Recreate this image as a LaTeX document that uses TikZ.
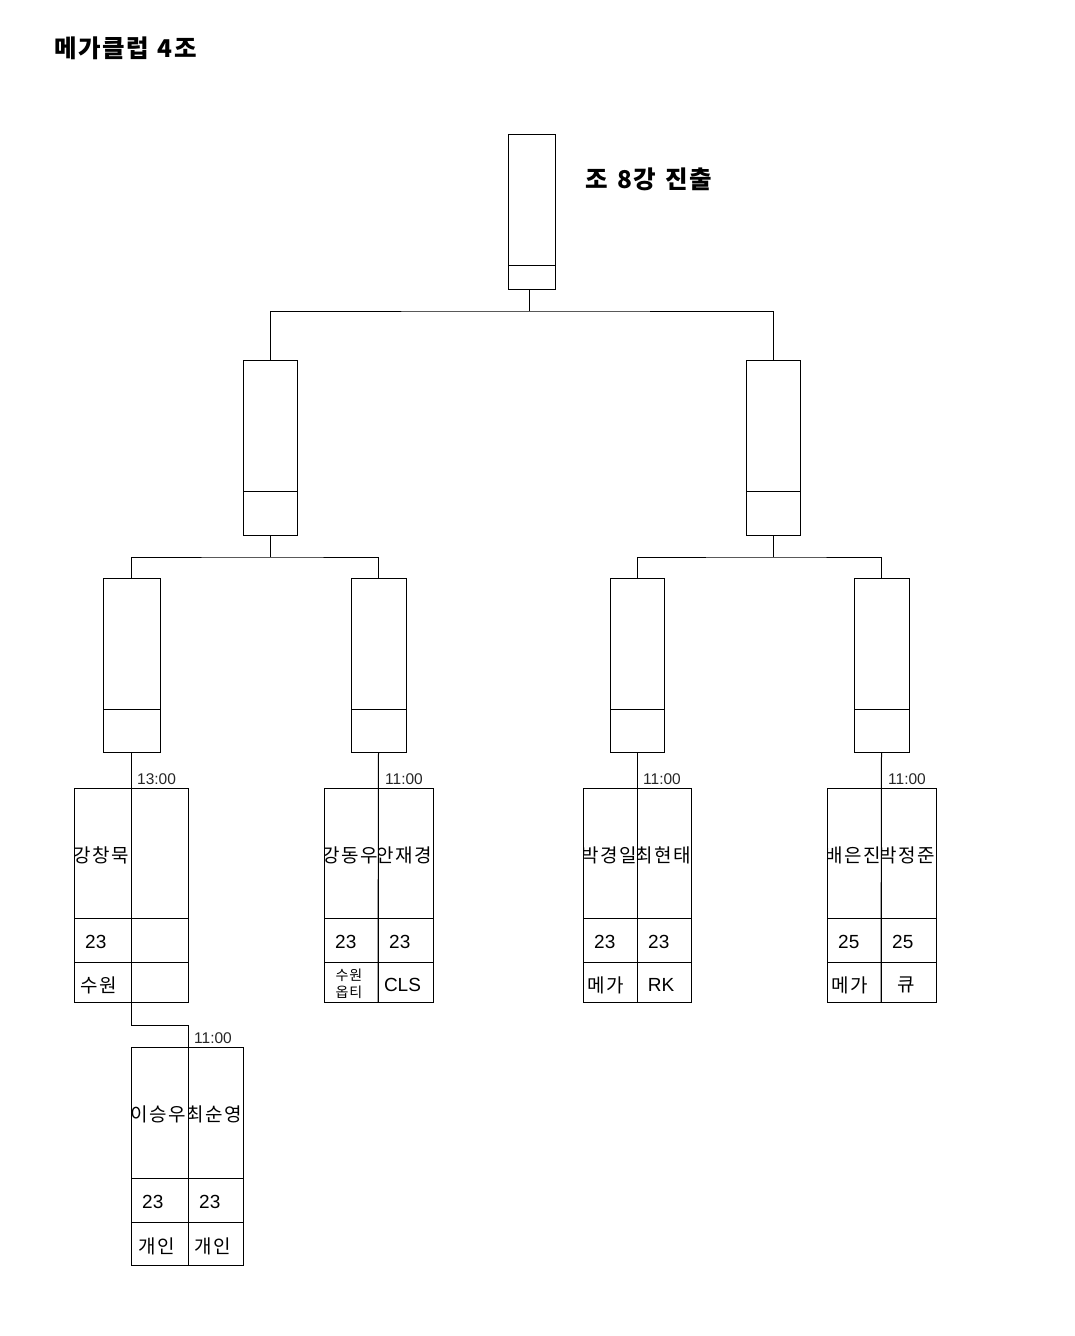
\documentclass[tikz,border=0pt]{standalone}
\usepackage{fontspec}
\setmainfont{Liberation Sans}
\newfontfamily\kr{Noto Sans CJK KR}[LetterSpace=7]
\newfontfamily\krt{Noto Sans CJK KR}[LetterSpace=6,WordSpace=1.3]
\usetikzlibrary{calc}
\newcommand\bbox[6]{% name x1 y1 x2 y2 divider-y
  \node[boxst, minimum width={(#4-#2)*1pt}, minimum height={(#5-#3)*1pt}] (#1) at ({(#2+#4)/2},{(#3+#5)/2}) {};
  \draw[ln] (#2,#6) -- (#4,#6);}
\newcommand\cellnode[5]{% name x1 y1 x2 y2
  \node[boxst, minimum width={(#4-#2)*1pt}, minimum height={(#5-#3)*1pt}] (#1) at ({(#2+#4)/2},{(#3+#5)/2}) {};}
\newcommand\mtable[8]{% prefix xl xm xr yt y1 y2 yb
  \cellnode{#1-n1}{#2}{#5}{#3}{#6}
  \cellnode{#1-n2}{#3}{#5}{#4}{#6}
  \cellnode{#1-a1}{#2}{#6}{#3}{#7}
  \cellnode{#1-a2}{#3}{#6}{#4}{#7}
  \cellnode{#1-c1}{#2}{#7}{#3}{#8}
  \cellnode{#1-c2}{#3}{#7}{#4}{#8}}
\newcommand\nameclip[2]{%
  \begin{scope}
    \clip (#1.north west) rectangle (#1.south east);
    \node[nm] (#1-txt) at ([xshift=-1pt,yshift=-2pt]#1.center) {#2};
  \end{scope}}
\tikzset{
  ln/.style={line width=1pt, black},
  boxst/.style={draw, line width=1pt, black, rectangle, inner sep=0pt, outer sep=0pt},
  nm/.style={font=\kr\fontsize{19}{19}\selectfont, inner sep=0pt},
  num/.style={font=\fontsize{19}{19}\selectfont, inner sep=0pt, anchor=west},
  ktx/.style={font=\kr\fontsize{19}{19}\selectfont, inner sep=0pt},
  ltx/.style={font=\fontsize{19}{19}\selectfont, inner sep=0pt},
  small/.style={font=\kr\fontsize{14}{17}\selectfont, inner sep=0pt, align=center},
  tm/.style={font=\fontsize{15.5}{16}\selectfont, inner sep=0pt, anchor=base west, text=black!85},
  ttl/.style={font=\krt\bfseries\fontsize{24.5}{25}\selectfont, inner sep=0pt}
}
\begin{document}
\begin{tikzpicture}[x=1pt, y=-1pt]
\useasboundingbox (0,0) rectangle (1074,1336);
\fill[white] (0,0) rectangle (1074,1336);

% titles
\node[ttl, anchor=west] (title) at (54,48) {메가클럽 4조};
\node[ttl] (adv) at (649,179) {조 8강 진출};

% bracket boxes
\bbox{T}{508}{134}{555}{289}{265}
\bbox{La}{243}{360}{297}{535}{491}
\bbox{Lb}{746}{360}{800}{535}{491}
\bbox{A}{103}{578}{160}{752}{709}
\bbox{B}{351}{578}{406}{752}{709}
\bbox{C}{610}{578}{664}{752}{709}
\bbox{D}{854}{578}{909}{752}{709}

% junctions
\coordinate (j0) at (529,311);
\coordinate (j1) at (270,557);
\coordinate (j2) at (773,557);
\coordinate (j3) at (188,1025);

\draw[ln] (j0 |- T.south) -- (j0);
\draw[ln] (La.north) |- (j0) -| (Lb.north);
\draw[ln] (La.south) -- (j1);
\draw[ln] (Lb.south) -- (j2);
\draw[ln] (A.north) |- (j1) -| (B.north);
\draw[ln] (C.north) |- (j2) -| (D.north);

% match tables
\mtable{t1}{74}{131}{188}{788}{918}{962}{1002}
\mtable{t2}{324}{378}{433}{788}{918}{962}{1002}
\mtable{t3}{583}{637}{691}{788}{918}{962}{1002}
\mtable{t4}{827}{881}{936}{788}{918}{962}{1002}
\mtable{t5}{131}{188}{243}{1047}{1178}{1222}{1265}

% stems into tables
\draw[ln] (A.south) |- (j3) -- (t5-c1.south east);
\draw[ln] (B.south) -- (t2-c1.south east);
\draw[ln] (C.south) -- (t3-c1.south east);
\draw[ln] (D.south) -- (t4-c1.south east);

% times
\node[tm] (tm1) at ([xshift=6pt,yshift=4pt]t1-n2.north west) {13:00};
\node[tm] (tm2) at ([xshift=7pt,yshift=4pt]t2-n2.north west) {11:00};
\node[tm] (tm3) at ([xshift=6pt,yshift=4pt]t3-n2.north west) {11:00};
\node[tm] (tm4) at ([xshift=7pt,yshift=4pt]t4-n2.north west) {11:00};
\node[tm] (tm5) at ([xshift=6pt,yshift=4pt]t5-n2.north west) {11:00};

% names
\nameclip{t1-n1}{강창묵}
\nameclip{t2-n1}{강동우}
\nameclip{t2-n2}{안재경}
\nameclip{t3-n1}{박경일}
\nameclip{t3-n2}{최현태}
\nameclip{t4-n1}{배은진}
\nameclip{t4-n2}{박정준}
\nameclip{t5-n1}{이승우}
\nameclip{t5-n2}{최순영}

% ages
\node[num] (a11) at ([xshift=11pt,yshift=-2pt]t1-a1.west) {23};
\node[num] (a21) at ([xshift=11pt,yshift=-2pt]t2-a1.west) {23};
\node[num] (a22) at ([xshift=11pt,yshift=-2pt]t2-a2.west) {23};
\node[num] (a31) at ([xshift=11pt,yshift=-2pt]t3-a1.west) {23};
\node[num] (a32) at ([xshift=11pt,yshift=-2pt]t3-a2.west) {23};
\node[num] (a41) at ([xshift=11pt,yshift=-2pt]t4-a1.west) {25};
\node[num] (a42) at ([xshift=11pt,yshift=-2pt]t4-a2.west) {25};
\node[num] (a51) at ([xshift=11pt,yshift=-2pt]t5-a1.west) {23};
\node[num] (a52) at ([xshift=11pt,yshift=-2pt]t5-a2.west) {23};

% clubs
\node[ktx] (c11) at ([xshift=-4pt,yshift=-3pt]t1-c1.center) {수원};
\node[small] (c21) at ([xshift=-2pt,yshift=-2pt]t2-c1.center) {수원\\옵티};
\node[ltx] (c22) at ([xshift=-3pt,yshift=-3pt]t2-c2.center) {CLS};
\node[ktx] (c31) at ([xshift=-4pt,yshift=-3pt]t3-c1.center) {메가};
\node[ltx] (c32) at ([xshift=-3pt,yshift=-3pt]t3-c2.center) {RK};
\node[ktx] (c41) at ([xshift=-4pt,yshift=-3pt]t4-c1.center) {메가};
\node[ktx] (c42) at ([xshift=-2pt,yshift=-3pt]t4-c2.center) {큐};
\node[ktx] (c51) at ([xshift=-3pt,yshift=-3pt]t5-c1.center) {개인};
\node[ktx] (c52) at ([xshift=-3pt,yshift=-3pt]t5-c2.center) {개인};
\end{tikzpicture}
\end{document}
